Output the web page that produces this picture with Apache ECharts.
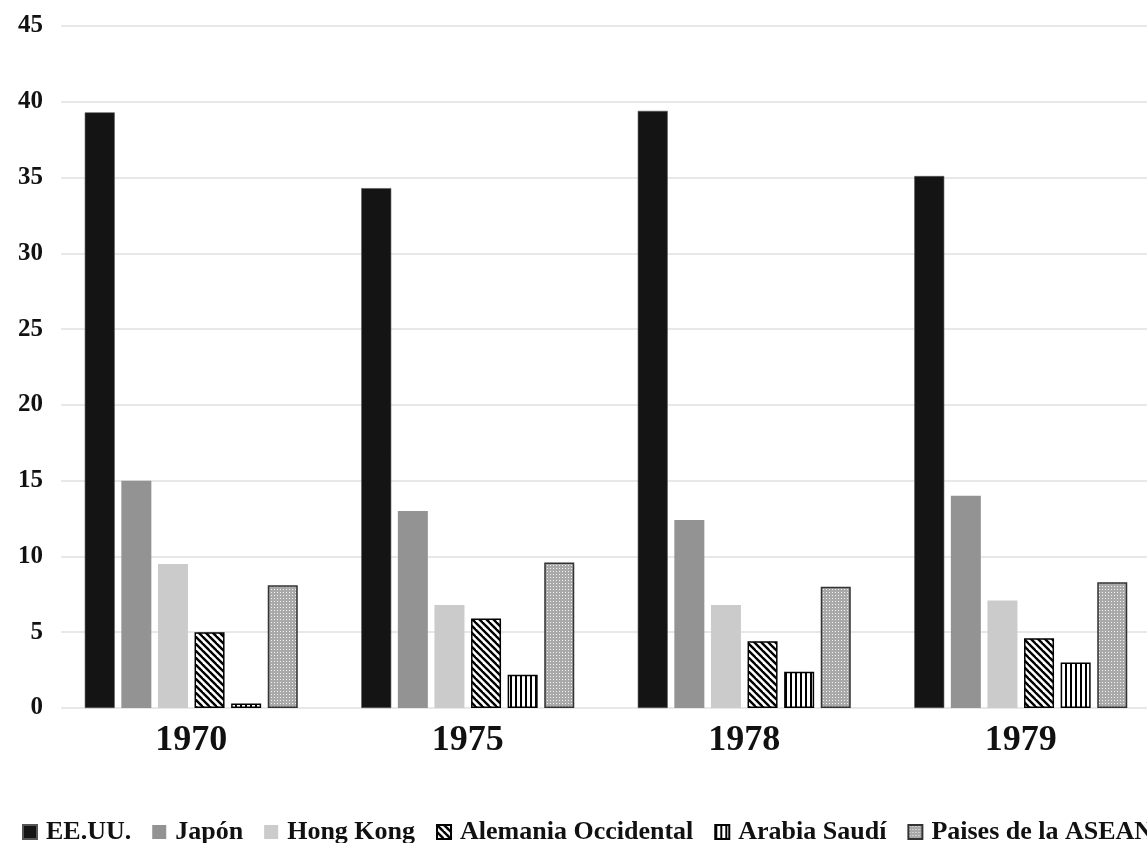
<!DOCTYPE html>
<html>
<head>
<meta charset="utf-8">
<script src="https://cdn.jsdelivr.net/npm/echarts@6/dist/echarts.min.js"></script>
<style>
  html, body { margin: 0; padding: 0; background: #fff; overflow: hidden; }
  #chart { width: 1180px; height: 843px; }
</style>
</head>
<body>
<div id="chart"></div>
<script>
// Años y cuota de cada origen (%)
const years = ['1970', '1975', '1978', '1979'];
const seriesNames = ['EE.UU.', 'Japón', 'Hong Kong', 'Alemania Occidental', 'Arabia Saudí', 'Paises de la ASEAN'];
const eeuu      = [39.3, 34.3, 39.4, 35.1];
const japon     = [15.0, 13.0, 12.4, 14.0];
const hongKong  = [9.5, 6.8, 6.8, 7.1];
const alemania  = [5.0, 5.9, 4.4, 4.6];
const arabia    = [0.3, 2.2, 2.4, 3.0];
const asean     = [8.1, 9.6, 8.0, 8.3];
const yTicks    = { min: 0, max: 45, step: 5 };

const FONT = '"Liberation Serif", "Times New Roman", serif';

// Tile builders for the patterned fills
function tile(w, h, draw) {
  const c = document.createElement('canvas');
  c.width = w; c.height = h;
  const ctx = c.getContext('2d');
  ctx.fillStyle = '#fff';
  ctx.fillRect(0, 0, w, h);
  draw(ctx, w, h);
  return c;
}
const diagTile = tile(7, 7, (ctx, w) => {
  ctx.strokeStyle = '#000';
  ctx.lineWidth = 2.4;
  for (let o = -w; o <= w; o += w) {
    ctx.beginPath();
    ctx.moveTo(o - 1, -1);
    ctx.lineTo(o + w + 1, w + 1);
    ctx.stroke();
  }
});
const vertTile = tile(5, 5, (ctx) => {
  ctx.fillStyle = '#000';
  ctx.fillRect(0, 0, 2, 5);
});
const dotTile = tile(3, 3, (ctx) => {
  ctx.fillStyle = '#a9a9a9';
  ctx.fillRect(0, 0, 3, 3);
  ctx.fillStyle = '#f2f2f2';
  ctx.fillRect(1, 1, 1, 1);
});

const styles = [
  { color: '#141414', borderColor: '#555', borderWidth: 0.6 },
  { color: '#939393' },
  { color: '#cbcbcb' },
  { color: { image: diagTile, repeat: 'repeat' }, borderColor: '#000', borderWidth: 1.5 },
  { color: { image: vertTile, repeat: 'repeat' }, borderColor: '#000', borderWidth: 1.5 },
  { color: { image: dotTile, repeat: 'repeat' }, borderColor: '#333', borderWidth: 1.5 }
];
const values = [eeuu, japon, hongKong, alemania, arabia, asean];

const chart = echarts.init(document.getElementById('chart'), null, { renderer: 'canvas' });

const series = seriesNames.map((name, i) => ({
  name: name,
  type: 'bar',
  xAxisIndex: 1,
  yAxisIndex: 1,
  data: values[i],
  barWidth: 30,
  barGap: '22%',
  itemStyle: styles[i],
  emphasis: { disabled: true }
}));

chart.setOption({
  animation: false,
  backgroundColor: '#fff',
  legend: {
    data: seriesNames,
    left: 22,
    top: 819,
    icon: 'rect',
    itemWidth: 14,
    itemHeight: 14,
    itemGap: 21,
    padding: 0,
    selectedMode: false,
    textStyle: {
      fontFamily: FONT,
      fontWeight: 'bold',
      fontSize: 26,
      color: '#111',
      padding: [0, 0, 0, 4]
    }
  },
  grid: [
    { left: 61, top: 26, height: 682, right: 0 },
    { left: 53, top: 26, height: 682, width: 1106 }
  ],
  xAxis: [
    { gridIndex: 0, type: 'value', show: false, min: 0, max: 1 },
    {
      gridIndex: 1,
      type: 'category',
      data: years,
      axisLine: { show: false },
      axisTick: { show: false },
      axisLabel: {
        margin: 15,
        fontFamily: FONT,
        fontWeight: 'bold',
        fontSize: 36,
        color: '#111'
      }
    }
  ],
  yAxis: [
    {
      gridIndex: 0,
      type: 'value',
      min: yTicks.min,
      max: yTicks.max,
      interval: yTicks.step,
      axisLine: { show: false },
      axisTick: { show: false },
      splitLine: { lineStyle: { color: '#e0e0e0', width: 1.5 } },
      axisLabel: {
        margin: 18,
        fontFamily: FONT,
        fontWeight: 'bold',
        fontSize: 25,
        color: '#111'
      }
    },
    { gridIndex: 1, type: 'value', min: yTicks.min, max: yTicks.max, interval: yTicks.step, show: false }
  ],
  series: series
});
</script>
</body>
</html>
